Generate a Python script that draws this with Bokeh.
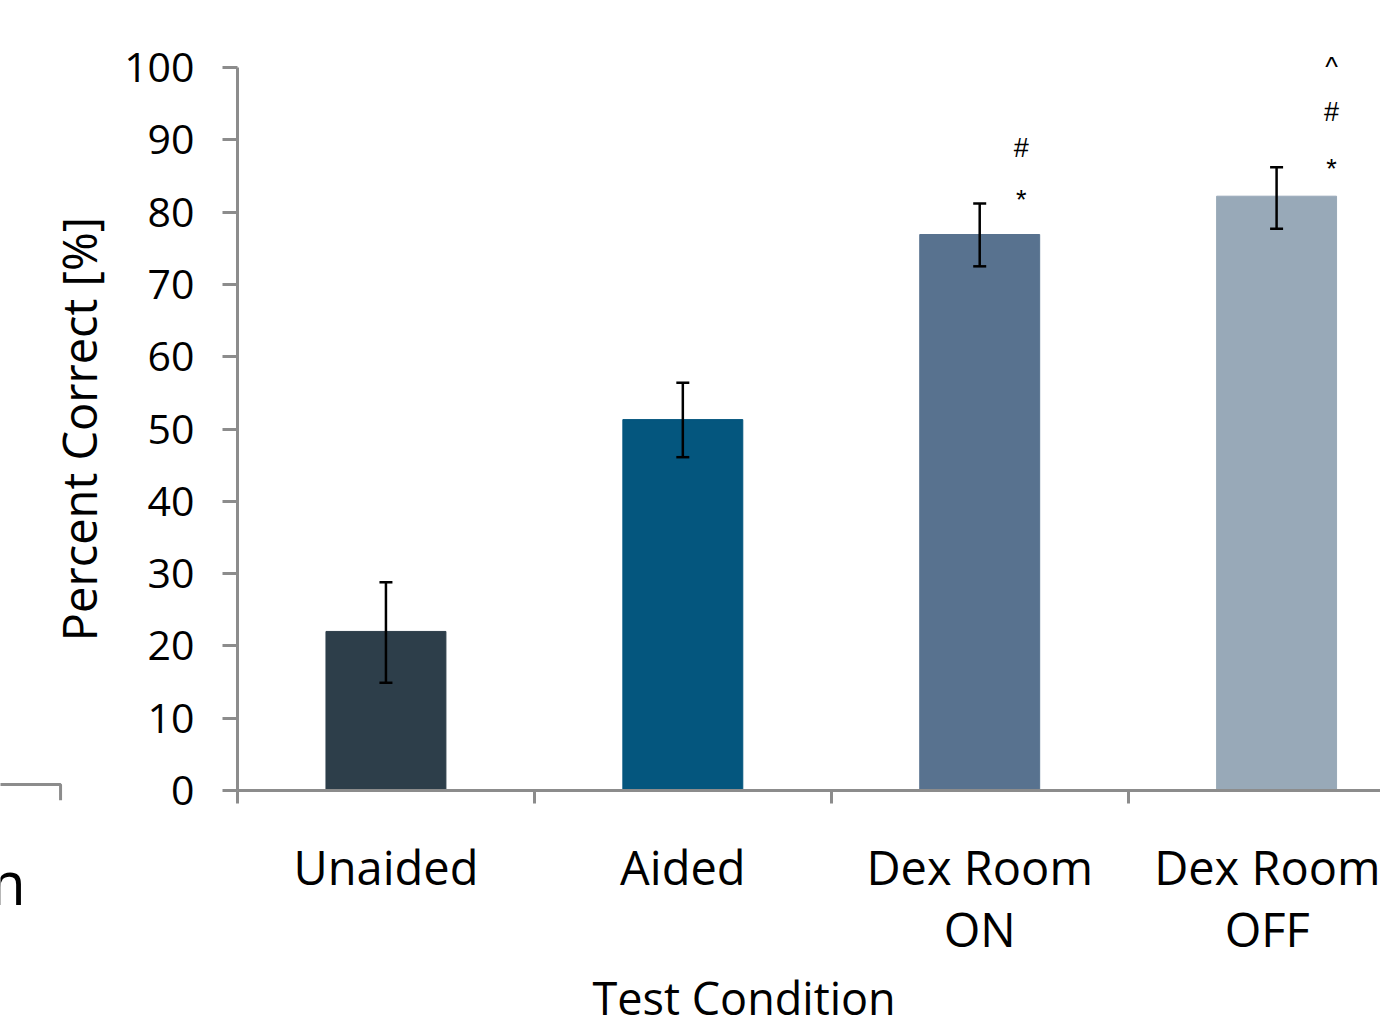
from bokeh.plotting import figure
from bokeh.models import (ColumnDataSource, Whisker, TeeHead, LinearAxis, FixedTicker,
                          Range1d, Title)
from bokeh.core.properties import value
from bokeh.embed import file_html
from bokeh.resources import INLINE

# ---- data ----
conditions = ["Unaided", "Aided", "Dex Room\nON", "Dex Room\nOFF"]
percent_correct = [22.0, 51.3, 76.9, 82.2]
error_upper = [28.8, 56.4, 81.2, 86.2]
error_lower = [14.9, 46.1, 72.5, 77.7]
bar_colors = ["#2d3e4a", "#04567e", "#58728f", "#98a9b8"]
y_ticks = [0, 10, 20, 30, 40, 50, 60, 70, 80, 90, 100]
# significance markers
sig_condition = [2, 2, 3, 3, 3]
sig_symbol = ["*", "#", "*", "#", "^"]
sig_level = [81.7, 88.8, 85.9, 93.8, 100.1]

FONT = "Open Sans"
AXIS_GRAY = "#8c8c8c"
W, H = 1380, 1031
BL, BR, BT, BB = 237, 0, 67, 241
X_END = 3.85
Y_END = 100

x_pos = [i + 0.5 for i in range(len(conditions))]
src = ColumnDataSource(dict(x=x_pos, top=percent_correct, upper=error_upper,
                            lower=error_lower, color=bar_colors))

p = figure(width=W, height=H, output_backend="svg", toolbar_location=None,
           x_range=Range1d(0, X_END), y_range=Range1d(0, Y_END),
           x_axis_location=None, y_axis_location=None,
           min_border_left=BL, min_border_right=BR, min_border_top=BT,
           min_border_bottom=BB)
p.outline_line_color = None
p.xgrid.visible = False
p.ygrid.visible = False

p.vbar(x="x", top="top", width=0.404, bottom=0, color="color", source=src)

whisk = Whisker(base="x", upper="upper", lower="lower", source=src, level="overlay",
                line_color="black", line_width=2.5,
                upper_head=TeeHead(size=13, line_color="black", line_width=2.5),
                lower_head=TeeHead(size=13, line_color="black", line_width=2.5))
p.add_layout(whisk)

# y axis
yax = LinearAxis(ticker=FixedTicker(ticks=y_ticks), axis_label="Percent Correct [%]")
yax.axis_line_color = AXIS_GRAY
yax.axis_line_width = 3
yax.major_tick_line_color = AXIS_GRAY
yax.major_tick_line_width = 3
yax.major_tick_out = 15
yax.major_tick_in = 0
yax.minor_tick_line_color = None
yax.major_label_text_font = FONT
yax.major_label_text_font_size = "41px"
yax.major_label_text_color = "black"
yax.major_label_standoff = 28
yax.axis_label_text_font = FONT
yax.axis_label_text_font_size = "47px"
yax.axis_label_text_font_style = "normal"
yax.axis_label_text_color = "black"
yax.axis_label_standoff = 10
p.add_layout(yax, "left")

# x axis: boundary ticks
xax1 = LinearAxis(ticker=FixedTicker(ticks=[0, 1, 2, 3]),
                  major_label_overrides={0: "", 1: "", 2: "", 3: ""})
xax1.axis_line_color = AXIS_GRAY
xax1.axis_line_width = 3
xax1.major_tick_line_color = AXIS_GRAY
xax1.major_tick_line_width = 3
xax1.major_tick_out = 13
xax1.major_tick_in = 0
xax1.minor_tick_line_color = None
xax1.major_label_text_font_size = "1px"
xax1.major_label_standoff = 0
p.add_layout(xax1, "below")

# x axis: category labels
xax2 = LinearAxis(ticker=FixedTicker(ticks=x_pos),
                  major_label_overrides={xv: c for xv, c in zip(x_pos, conditions)})
xax2.axis_line_color = None
xax2.major_tick_line_color = None
xax2.major_tick_out = 0
xax2.major_tick_in = 0
xax2.minor_tick_line_color = None
xax2.major_label_text_font = FONT
xax2.major_label_text_font_size = "47px"
xax2.major_label_text_color = "black"
xax2.major_label_text_line_height = 0.98
xax2.major_label_standoff = 31
p.add_layout(xax2, "below")

# x title
p.add_layout(Title(text="Test Condition", align="left", offset=355, standoff=0,
                   text_font=FONT, text_font_size="45px", text_font_style="normal",
                   text_color="black"), "below")

# ---- transparent overlay sharing the same data scale, covering the whole canvas ----
kx = (W - BL - BR) / X_END
ky = (H - BT - BB) / Y_END
ov = figure(width=W, height=H, output_backend="svg", toolbar_location=None,
            x_range=Range1d(-BL / kx, X_END + BR / kx),
            y_range=Range1d(-BB / ky, Y_END + BT / ky),
            x_axis_location=None, y_axis_location=None,
            min_border=0, margin=(-H, 0, 0, 0))
ov.outline_line_color = None
ov.xgrid.visible = False
ov.ygrid.visible = False
ov.background_fill_alpha = 0
ov.border_fill_alpha = 0

sig_src = ColumnDataSource(dict(
    x=[x_pos[c] + (0.14 if c == 2 else 0.185) for c in sig_condition],
    y=sig_level, text=sig_symbol))
ov.text(x="x", y="y", text="text", source=sig_src, text_font=value("Liberation Sans"),
        text_font_size="27px", text_align="center", text_baseline="middle",
        text_color="black")

# fragment of a neighbouring panel visible at the left edge
ov.text(x=[-0.90], y=[-12.6], text=["m"], text_font=value(FONT), text_font_size="60px",
        text_align="left", text_baseline="alphabetic", text_color="black")
ov.line(x=[-0.82, -0.596, -0.596], y=[0.83, 0.83, -1.35], line_color=AXIS_GRAY,
        line_width=3)

open("out.html", "w").write(file_html([p, ov], INLINE))
